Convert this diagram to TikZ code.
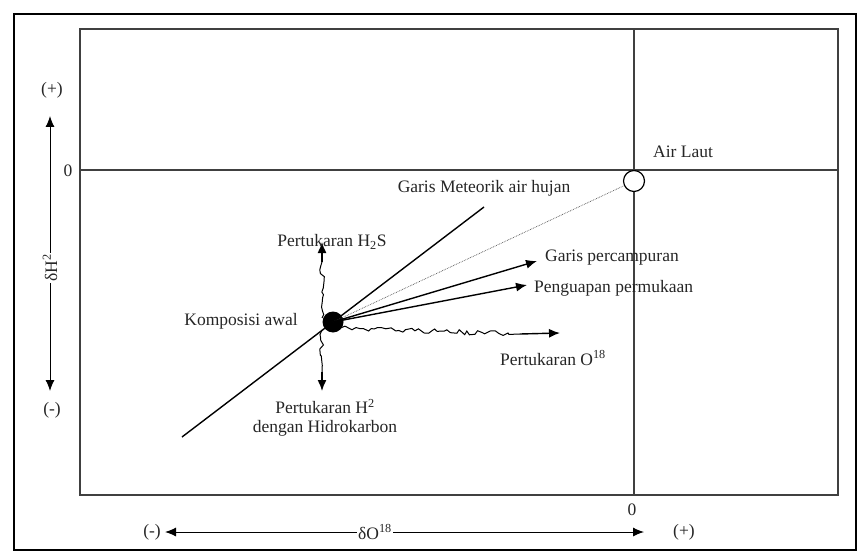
\documentclass[tikz,border=0pt]{standalone}
\usepackage{fontspec}
\setmainfont{Liberation Serif}
\usetikzlibrary{arrows.meta,decorations.pathmorphing}
\begin{document}
\begin{tikzpicture}[x=1pt,y=-1pt,
  lbl/.style={font=\fontsize{17.5}{19}\selectfont, text=black!85, inner sep=1pt},
  axis/.style={line width=1.1pt, black!75},
  tip/.style={-{Latex[length=11pt,width=9pt]}},
  arr/.style={line width=1.4pt, tip},
  wig/.style={line width=1pt, decorate, decoration={random steps, segment length=4pt, amplitude=2.4pt}}]
\useasboundingbox (0,0) rectangle (866,556);
\fill[white] (0,0) rectangle (866,556);
\draw[line width=2.5pt] (14,14) rectangle (856,550);
% inner frame
\draw[axis] (80,29) rectangle (838,495);
\draw[axis] (80,170) -- (838,170);
\draw[axis] (634,29) -- (634,495);
% nodes
\node[draw, line width=1.2pt, circle, inner sep=0pt, fill=white, minimum size=21pt] (laut) at (634,181) {};
\node[circle, fill=black, minimum size=21pt, inner sep=0pt] (dot) at (333,322) {};
\coordinate (m1) at (182,437);
\coordinate (m2) at (484,207);
\draw[line width=1.4pt] (m1) -- (m2);
\draw[densely dotted, line width=0.7pt, black!70] (dot.center) -- (laut);
\coordinate (gp) at (537,261);
\coordinate (pp) at (527,285);
\coordinate (o18) at (560,333);
\coordinate (up) at (322,242);
\coordinate (dn) at (322,391);
\draw[arr] (dot.center) -- (gp);
\draw[arr] (dot.center) -- (pp);
\pgfmathsetseed{7}
\draw[wig] (327,328) -- (520,334);
\draw[arr] (520,334) -- (o18);
\draw[wig] (322,318) -- (322,262);
\draw[arr] (322,262) -- (up);
\draw[wig] (322,330) -- (322,372);
\draw[arr] (322,372) -- (dn);
% labels
\node[lbl] (tlaut) at (683,152) {Air Laut};
\node[lbl] (tmet) at (484,188) {Garis Meteorik air hujan};
\node[lbl] (th2s) at (332,242) {Pertukaran H\textsubscript{2}S};
\node[lbl, anchor=west] (tgp) at (544,258) {Garis percampuran};
\node[lbl, anchor=west] (tpp) at (533,288) {Penguapan permukaan};
\node[lbl] (tkom) at (241,321) {Komposisi awal};
\node[lbl] (to18) at (553,358) {Pertukaran O\textsuperscript{18}};
\node[lbl, align=center] (th2) at (325,418) {Pertukaran H\textsuperscript{2}\\dengan Hidrokarbon};
% left axis
\node[lbl] (yplus) at (52,90) {(+)};
\node[lbl] (yminus) at (52,410) {(-)};
\node[lbl] (yzero) at (68,171) {0};
\node[lbl, rotate=90, fill=white] (ylab) at (50,268) {δH\textsuperscript{2}};
\draw[line width=1pt, {Latex[length=11pt,width=9pt]}-] (50,116) -- (ylab);
\draw[line width=1pt, tip] (ylab) -- (50,391);
% bottom axis
\node[lbl] (xminus) at (152,532) {(-)};
\node[lbl] (xplus) at (684,532) {(+)};
\node[lbl] (xzero) at (632,510) {0};
\node[lbl, fill=white] (xlab) at (375,532) {δO\textsuperscript{18}};
\draw[line width=1pt, {Latex[length=11pt,width=9pt]}-] (165,532) -- (xlab);
\draw[line width=1pt, tip] (xlab) -- (644,532);
\end{tikzpicture}
\end{document}
